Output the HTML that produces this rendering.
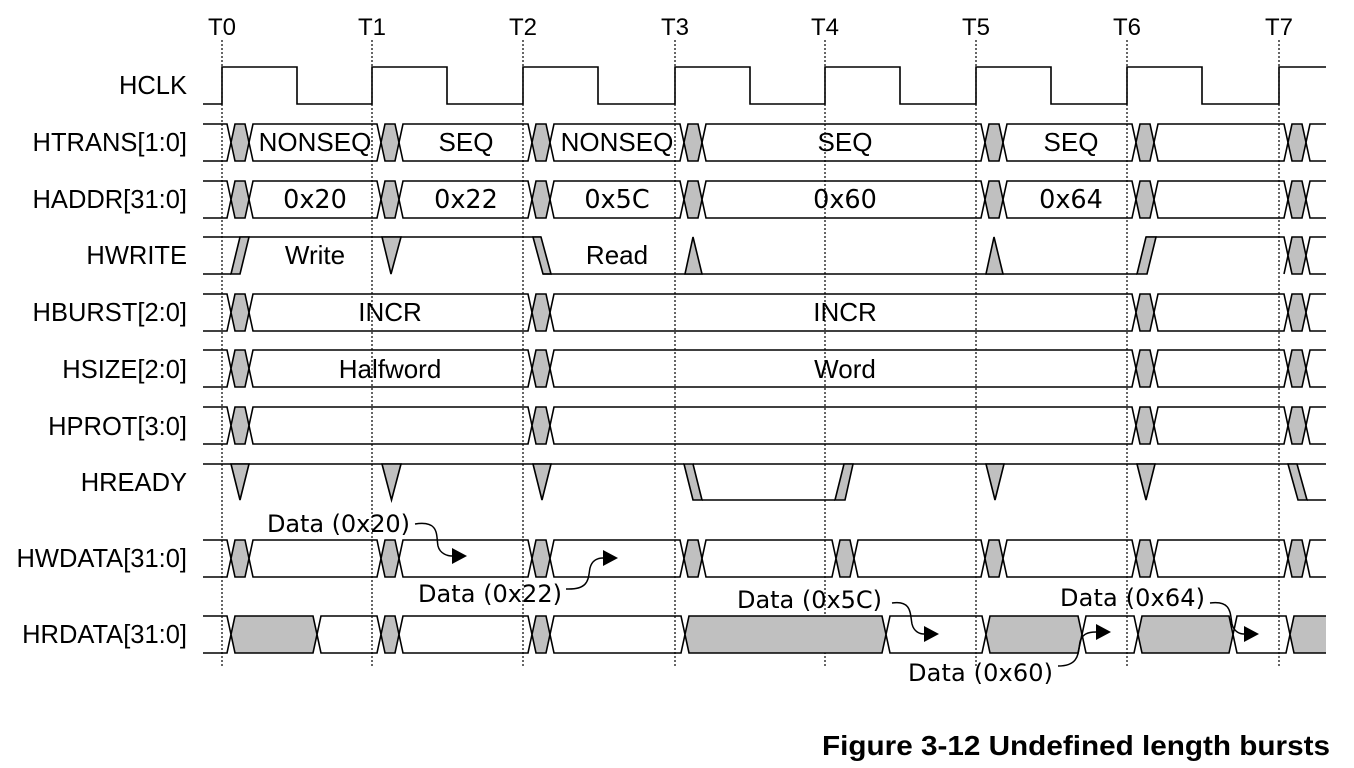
<!DOCTYPE html>
<html><head><meta charset="utf-8"><style>
html,body{margin:0;padding:0;background:#fff;}
svg{display:block;}
.l{font-family:"Liberation Sans",Arial,sans-serif;font-size:25.5px;fill:#000;}
.d{font-family:"DejaVu Sans",sans-serif;font-size:24px;fill:#000;}
</style></head><body>
<svg id="s" width="1354" height="768" viewBox="0 0 1354 768" xmlns="http://www.w3.org/2000/svg">
<g id="shapes" fill="none" stroke="#000" stroke-width="1.6"></g>
<g text-anchor="middle" class="l" style="font-size:24px">
<text x="222" y="35">T0</text><text x="372" y="35">T1</text><text x="523" y="35">T2</text><text x="675" y="35">T3</text>
<text x="825" y="35">T4</text><text x="976" y="35">T5</text><text x="1127" y="35">T6</text><text x="1279" y="35">T7</text>
</g>
<g text-anchor="end" class="l">
<text x="187" y="94">HCLK</text>
<text x="187" y="151">HTRANS[1:0]</text>
<text x="187" y="208">HADDR[31:0]</text>
<text x="187" y="264">HWRITE</text>
<text x="187" y="321">HBURST[2:0]</text>
<text x="187" y="378">HSIZE[2:0]</text>
<text x="187" y="435">HPROT[3:0]</text>
<text x="187" y="491">HREADY</text>
<text x="187" y="567">HWDATA[31:0]</text>
<text x="187" y="643">HRDATA[31:0]</text>
</g>
<g text-anchor="middle" class="l" style="font-size:26px">
<text x="315" y="151">NONSEQ</text><text x="466" y="151">SEQ</text><text x="617" y="151">NONSEQ</text><text x="845" y="151">SEQ</text><text x="1071" y="151">SEQ</text>
<text x="315" y="264">Write</text><text x="617" y="264">Read</text>
<text x="390" y="321">INCR</text><text x="845" y="321">INCR</text>
<text x="390" y="378">Halfword</text><text x="845" y="378">Word</text>
</g>
<g text-anchor="middle" class="d" style="font-size:25.5px">
<text x="315" y="208">0x20</text><text x="466" y="208">0x22</text><text x="617" y="208">0x5C</text><text x="845" y="208">0x60</text><text x="1071" y="208">0x64</text>
</g>
<g class="d">
<text x="267" y="532" textLength="143">Data (0x20)</text>
<text x="418" y="602" textLength="144">Data (0x22)</text>
<text x="737" y="608" textLength="145">Data (0x5C)</text>
<text x="908" y="681" textLength="145">Data (0x60)</text>
<text x="1060" y="606" textLength="145">Data (0x64)</text>
</g>
<text x="822" y="755" style="font-family:'Liberation Sans',Arial,sans-serif;font-weight:bold;font-size:28px" textLength="508" lengthAdjust="spacingAndGlyphs">Figure 3-12 Undefined length bursts</text>
</svg>
<script>
(function(){
var g=document.getElementById('shapes'),NS='http://www.w3.org/2000/svg';
function el(n,a){var e=document.createElementNS(NS,n);for(var k in a)e.setAttribute(k,a[k]);g.appendChild(e);return e;}
function pl(pts,fill,extra){var a={points:pts.map(function(p){return p.join(',')}).join(' ')};if(fill)a.fill=fill;if(extra)for(var k in extra)a[k]=extra[k];return el(fill?'polygon':'polyline',a);}
var T=[222,372,523,675,825,976,1127,1279],L=203,R=1326,G='#c0c0c0';
T.forEach(function(x){el('line',{x1:x,y1:40,x2:x,y2:668,'stroke-width':1.2,'stroke-dasharray':'2,2'});});
var c=[[L,104]];T.forEach(function(x,i){c.push([x,104],[x,67]);if(i<7){c.push([x+75,67],[x+75,104]);}});c.push([R,67]);pl(c);
function H(t){return [[t+9,'g'],[t+27,'w']];}
function row(top,ev,init){var bot=top+37,mid=top+18.5;var xs=[L],fs=[init||'w'];ev.forEach(function(e){xs.push(e[0]);fs.push(e[1]);});xs.push(R);
for(var i=0;i<xs.length-1;i++){var a=xs[i],b=xs[i+1],f=fs[i];var ao=(i==0),bo=(i==xs.length-2);
var tp=[],bp=[];if(ao){tp.push([a,top]);bp.push([a,bot]);}else{tp.push([a,mid],[a+4,top]);bp.push([a,mid],[a+4,bot]);}
if(bo){tp.push([b,top]);bp.push([b,bot]);}else{tp.push([b-4,top],[b,mid]);bp.push([b-4,bot],[b,mid]);}
if(f=='g'){pl(tp.concat(bp.slice().reverse()),G,{stroke:'none'});}
pl(tp);pl(bp);}}
function cat(){var r=[];for(var i=0;i<arguments.length;i++)r=r.concat(arguments[i]);return r;}
var tr=cat(H(T[0]),H(T[1]),H(T[2]),H(T[3]),H(T[5]),H(T[6]),H(T[7]));
row(124,tr);row(181,tr);
var bs=cat(H(T[0]),H(T[2]),H(T[6]),H(T[7]));
row(294,bs);row(350,bs);row(407,bs);
row(540,cat(H(T[0]),H(T[1]),H(T[2]),H(T[3]),H(827),H(T[5]),H(T[6]),H(T[7])));
row(616,cat([[231,'g'],[317,'w']],H(T[1]),H(T[2]),[[685,'g'],[886,'w'],[986,'g'],[1082,'w'],[1138,'g'],[1233,'w'],[1290,'g']]));
// HWRITE
var t=237,b=274;
pl([[L,t],[541,t]]);
pl([[1146,t],[1284,t],[1288,255.5]]);
pl([[1284,b],[1288,255.5]]);
pl([[L,b],[231,b]]);
pl([[231,b],[240,b],[249,t],[240,t]],G);
pl([[382,t],[401,t],[391,b]],G);
pl([[533,t],[541,t],[551,b],[543,b]],G);
pl([[543,b],[1137,b]]);
pl([[685,b],[702,b],[693,t]],G);
pl([[986,b],[1003,b],[994,t]],G);
pl([[1137,b],[1147,b],[1156,t],[1146,t]],G);
pl([[1288,255.5],[1292,t],[1302,t],[1306,255.5],[1302,b],[1292,b]],G);
pl([[1306,255.5],[1310,t],[R,t]]);pl([[1306,255.5],[1310,b],[R,b]]);
// HREADY
t=464;b=500;
pl([[L,t],[684,t]]);pl([[693,t],[R,t]]);
[[231,249],[382,401],[533,551],[986,1004],[1137,1155]].forEach(function(p){pl([[p[0],t],[p[1],t],[(p[0]+p[1])/2,b]],G);});
pl([[684,t],[693,t],[702,b],[693,b]],G);
pl([[702,b],[835,b]]);
pl([[835,b],[845,b],[853,t],[844,t]],G);
pl([[1288,t],[1297,t],[1307,b],[1298,b]],G);
pl([[1307,b],[R,b]]);
function arr(d,hx,hy){el('path',{d:d,'stroke-width':1.5});el('polygon',{points:(hx)+','+hy+' '+(hx-15)+','+(hy-8)+' '+(hx-15)+','+(hy+8),fill:'#000',stroke:'none'});}
arr('M415,524 C440,520 436,536 438,546 C440,554 448,556 452,556',467,556);
arr('M566,589 C590,590 588,578 590,568 C592,560 598,558 603,558',618,558);
arr('M892,603 C912,600 910,614 912,624 C914,632 920,634 924,634',939,634);
arr('M1058,666 C1080,666 1078,652 1080,642 C1082,634 1088,632 1096,632',1111,632);
arr('M1210,603 C1232,600 1230,614 1232,624 C1234,632 1240,634 1244,634',1259,634);
})();
</script>
</body></html>
